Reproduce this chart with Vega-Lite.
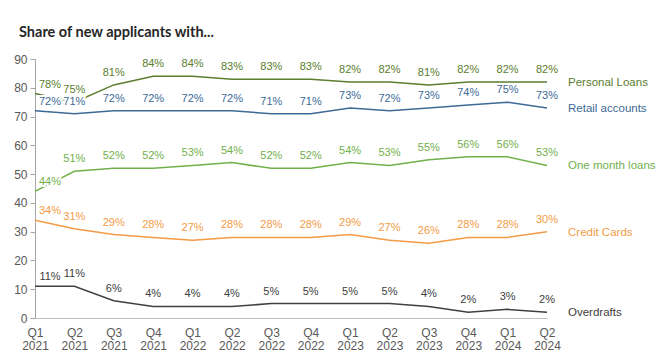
{
  "$schema": "https://vega.github.io/schema/vega-lite/v6.json",
  "width": 512,
  "height": 259,
  "autosize": {"type": "none"},
  "padding": {"left": 35, "top": 59, "right": 113, "bottom": 43},
  "background": "white",
  "title": {"text": "Share of new applicants with...", "anchor": "start", "frame": "group", "dx": -16, "offset": 13, "font": "Lato", "fontSize": 14.5, "fontWeight": "bold", "color": "#262626"},
  "config": {"view": {"stroke": null}, "font": "Liberation Sans"},
  "data": {"values": [
    {"q": "Q1 2021", "s": "Personal Loans", "v": 78}, {"q": "Q2 2021", "s": "Personal Loans", "v": 75}, {"q": "Q3 2021", "s": "Personal Loans", "v": 81}, {"q": "Q4 2021", "s": "Personal Loans", "v": 84}, {"q": "Q1 2022", "s": "Personal Loans", "v": 84}, {"q": "Q2 2022", "s": "Personal Loans", "v": 83}, {"q": "Q3 2022", "s": "Personal Loans", "v": 83}, {"q": "Q4 2022", "s": "Personal Loans", "v": 83}, {"q": "Q1 2023", "s": "Personal Loans", "v": 82}, {"q": "Q2 2023", "s": "Personal Loans", "v": 82}, {"q": "Q3 2023", "s": "Personal Loans", "v": 81}, {"q": "Q4 2023", "s": "Personal Loans", "v": 82}, {"q": "Q1 2024", "s": "Personal Loans", "v": 82}, {"q": "Q2 2024", "s": "Personal Loans", "v": 82},
    {"q": "Q1 2021", "s": "Retail accounts", "v": 72}, {"q": "Q2 2021", "s": "Retail accounts", "v": 71}, {"q": "Q3 2021", "s": "Retail accounts", "v": 72}, {"q": "Q4 2021", "s": "Retail accounts", "v": 72}, {"q": "Q1 2022", "s": "Retail accounts", "v": 72}, {"q": "Q2 2022", "s": "Retail accounts", "v": 72}, {"q": "Q3 2022", "s": "Retail accounts", "v": 71}, {"q": "Q4 2022", "s": "Retail accounts", "v": 71}, {"q": "Q1 2023", "s": "Retail accounts", "v": 73}, {"q": "Q2 2023", "s": "Retail accounts", "v": 72}, {"q": "Q3 2023", "s": "Retail accounts", "v": 73}, {"q": "Q4 2023", "s": "Retail accounts", "v": 74}, {"q": "Q1 2024", "s": "Retail accounts", "v": 75}, {"q": "Q2 2024", "s": "Retail accounts", "v": 73},
    {"q": "Q1 2021", "s": "One month loans", "v": 44}, {"q": "Q2 2021", "s": "One month loans", "v": 51}, {"q": "Q3 2021", "s": "One month loans", "v": 52}, {"q": "Q4 2021", "s": "One month loans", "v": 52}, {"q": "Q1 2022", "s": "One month loans", "v": 53}, {"q": "Q2 2022", "s": "One month loans", "v": 54}, {"q": "Q3 2022", "s": "One month loans", "v": 52}, {"q": "Q4 2022", "s": "One month loans", "v": 52}, {"q": "Q1 2023", "s": "One month loans", "v": 54}, {"q": "Q2 2023", "s": "One month loans", "v": 53}, {"q": "Q3 2023", "s": "One month loans", "v": 55}, {"q": "Q4 2023", "s": "One month loans", "v": 56}, {"q": "Q1 2024", "s": "One month loans", "v": 56}, {"q": "Q2 2024", "s": "One month loans", "v": 53},
    {"q": "Q1 2021", "s": "Credit Cards", "v": 34}, {"q": "Q2 2021", "s": "Credit Cards", "v": 31}, {"q": "Q3 2021", "s": "Credit Cards", "v": 29}, {"q": "Q4 2021", "s": "Credit Cards", "v": 28}, {"q": "Q1 2022", "s": "Credit Cards", "v": 27}, {"q": "Q2 2022", "s": "Credit Cards", "v": 28}, {"q": "Q3 2022", "s": "Credit Cards", "v": 28}, {"q": "Q4 2022", "s": "Credit Cards", "v": 28}, {"q": "Q1 2023", "s": "Credit Cards", "v": 29}, {"q": "Q2 2023", "s": "Credit Cards", "v": 27}, {"q": "Q3 2023", "s": "Credit Cards", "v": 26}, {"q": "Q4 2023", "s": "Credit Cards", "v": 28}, {"q": "Q1 2024", "s": "Credit Cards", "v": 28}, {"q": "Q2 2024", "s": "Credit Cards", "v": 30},
    {"q": "Q1 2021", "s": "Overdrafts", "v": 11}, {"q": "Q2 2021", "s": "Overdrafts", "v": 11}, {"q": "Q3 2021", "s": "Overdrafts", "v": 6}, {"q": "Q4 2021", "s": "Overdrafts", "v": 4}, {"q": "Q1 2022", "s": "Overdrafts", "v": 4}, {"q": "Q2 2022", "s": "Overdrafts", "v": 4}, {"q": "Q3 2022", "s": "Overdrafts", "v": 5}, {"q": "Q4 2022", "s": "Overdrafts", "v": 5}, {"q": "Q1 2023", "s": "Overdrafts", "v": 5}, {"q": "Q2 2023", "s": "Overdrafts", "v": 5}, {"q": "Q3 2023", "s": "Overdrafts", "v": 4}, {"q": "Q4 2023", "s": "Overdrafts", "v": 2}, {"q": "Q1 2024", "s": "Overdrafts", "v": 3}, {"q": "Q2 2024", "s": "Overdrafts", "v": 2}
  ]},
  "transform": [{"calculate": "datum.v + '%'", "as": "lab"}],
  "encoding": {
    "x": {"field": "q", "type": "ordinal", "sort": null, "scale": {"type": "point", "padding": 0},
      "axis": {"title": null, "labelAngle": 0, "ticks": false, "domainColor": "#bfbfbf", "labelColor": "#595959", "labelFontSize": 12, "labelPadding": 9, "labelLineHeight": 13, "labelExpr": "split(datum.label, ' ')"}},
    "y": {"field": "v", "type": "quantitative", "scale": {"domain": [0, 90]},
      "axis": {"title": null, "values": [0,10,20,30,40,50,60,70,80,90], "grid": false, "domainColor": "#a6a6a6", "tickColor": "#a6a6a6", "tickSize": 5, "labelColor": "#595959", "labelFontSize": 12, "labelPadding": 3}},
    "color": {"field": "s", "type": "nominal", "legend": null,
      "scale": {"domain": ["Personal Loans", "Retail accounts", "One month loans", "Credit Cards", "Overdrafts"], "range": ["#5a7d2e", "#3d6a96", "#72b04c", "#f59b47", "#404040"]}}
  },
  "layer": [
    {"mark": {"type": "line", "strokeWidth": 1.5}},
    {"transform": [{"filter": "datum.q != 'Q1 2021'"}], "mark": {"type": "text", "dy": -12, "fontSize": 11, "baseline": "middle", "stroke": "white", "strokeWidth": 4, "fill": "white"}, "encoding": {"text": {"field": "lab"}, "color": {"value": "white"}}},
    {"transform": [{"filter": "datum.q == 'Q1 2021'"}], "mark": {"type": "text", "dy": -9, "dx": 15, "fontSize": 11, "baseline": "middle", "stroke": "white", "strokeWidth": 4, "fill": "white"}, "encoding": {"text": {"field": "lab"}, "color": {"value": "white"}}},
    {"transform": [{"filter": "datum.q != 'Q1 2021'"}], "mark": {"type": "text", "dy": -12, "fontSize": 11, "baseline": "middle"}, "encoding": {"text": {"field": "lab"}}},
    {"transform": [{"filter": "datum.q == 'Q1 2021'"}], "mark": {"type": "text", "dy": -9, "dx": 15, "fontSize": 11, "baseline": "middle"}, "encoding": {"text": {"field": "lab"}}},
    {"transform": [{"filter": "datum.q == 'Q2 2024'"}], "mark": {"type": "text", "align": "left", "dx": 21, "dy": 1, "fontSize": 11.5, "baseline": "middle"}, "encoding": {"text": {"field": "s"}}}
  ]
}
